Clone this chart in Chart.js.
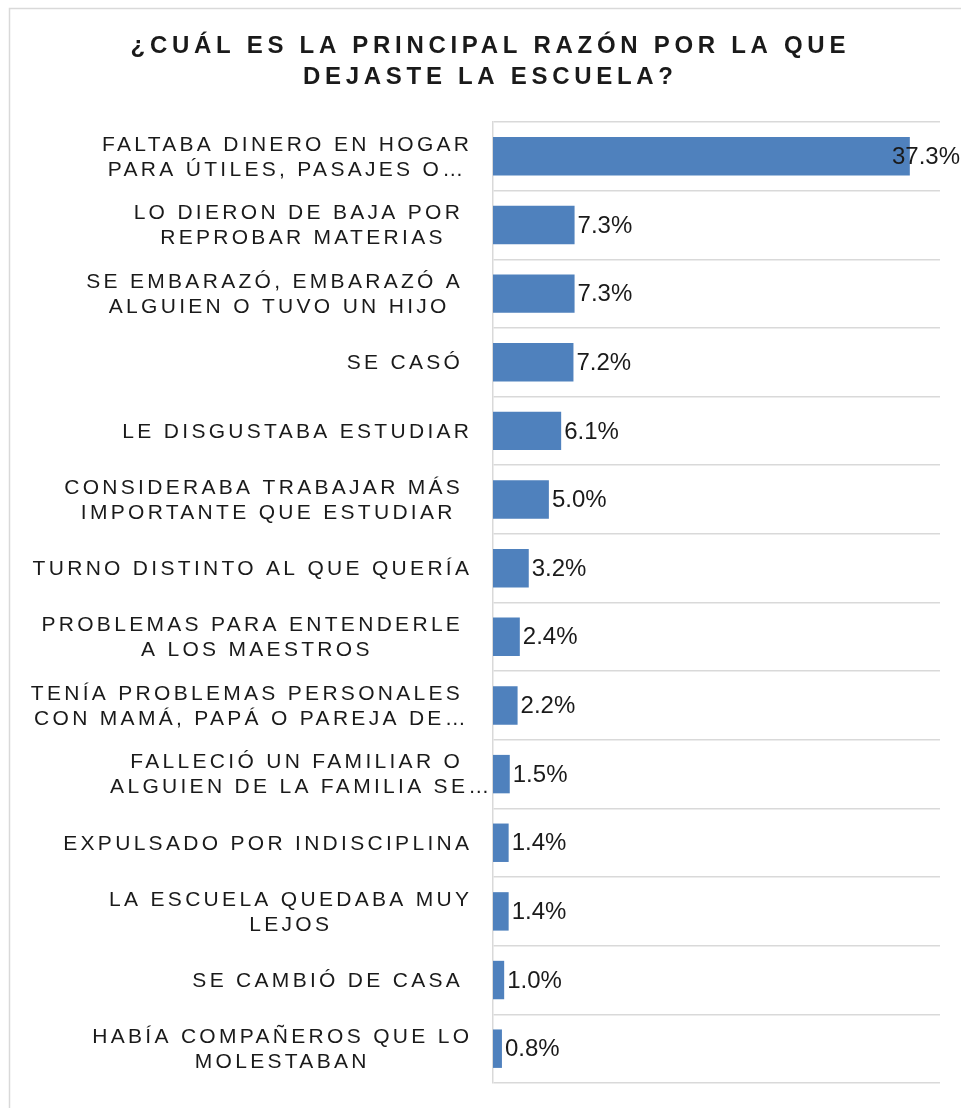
<!DOCTYPE html>
<html lang="es">
<head>
<meta charset="utf-8">
<title>¿Cuál es la principal razón por la que dejaste la escuela?</title>
<script src="https://cdn.jsdelivr.net/npm/chart.js@4/dist/chart.umd.min.js"></script>
<style>
    html, body { margin: 0; padding: 0; background: #ffffff; }
    #wrap { position: relative; width: 961px; height: 1108px; }
</style>
</head>
<body>
<div id="wrap"><canvas id="razones"></canvas></div>
<script>
const titleLines = ["¿CUÁL ES LA PRINCIPAL RAZÓN POR LA QUE", "DEJASTE LA ESCUELA?"];

const categories = [
    ["FALTABA DINERO EN HOGAR", "PARA ÚTILES, PASAJES O…"],
    ["LO DIERON DE BAJA POR ", "REPROBAR MATERIAS"],
    ["SE EMBARAZÓ, EMBARAZÓ A ", "ALGUIEN O TUVO UN HIJO"],
    ["SE CASÓ "],
    ["LE DISGUSTABA ESTUDIAR"],
    ["CONSIDERABA TRABAJAR MÁS ", "IMPORTANTE QUE ESTUDIAR"],
    ["TURNO DISTINTO AL QUE QUERÍA"],
    ["PROBLEMAS PARA ENTENDERLE ", "A LOS MAESTROS"],
    ["TENÍA PROBLEMAS PERSONALES ", "CON MAMÁ, PAPÁ O PAREJA DE…"],
    ["FALLECIÓ UN FAMILIAR O ", "ALGUIEN DE LA FAMILIA SE…"],
    ["EXPULSADO POR INDISCIPLINA"],
    ["LA ESCUELA QUEDABA MUY", "LEJOS"],
    ["SE CAMBIÓ DE CASA "],
    ["HABÍA COMPAÑEROS QUE LO", "MOLESTABAN"],
];

const percentages = [37.3, 7.3, 7.3, 7.2, 6.1, 5.0, 3.2, 2.4, 2.2, 1.5, 1.4, 1.4, 1.0, 0.8];

const axisMax = 40;

const barColor = "#4F81BD";
const gridColor = "#D9D9D9";
const textColor = "#1A1A1A";
const fontFamily = "'Liberation Sans', Arial, sans-serif";

// draw text with letter spacing, anchored by its left edge
function spacedText(ctx, text, x, y, spacing) {
    ctx.letterSpacing = spacing + "px";
    ctx.textAlign = "left";
    ctx.fillText(text, x, y);
    ctx.letterSpacing = "0px";
}

function spacedWidth(ctx, text, spacing) {
    ctx.letterSpacing = spacing + "px";
    const w = ctx.measureText(text).width;
    ctx.letterSpacing = "0px";
    return w;
}

// frame round the chart, title and category labels
const decorations = {
    id: "decorations",
    beforeDraw(chart) {
        const ctx = chart.ctx;
        ctx.save();
        ctx.fillStyle = "#ffffff";
        ctx.fillRect(0, 0, chart.width, chart.height);
        ctx.strokeStyle = gridColor;
        ctx.lineWidth = 1.5;
        ctx.beginPath();
        ctx.moveTo(9.5, chart.height);
        ctx.lineTo(9.5, 8.5);
        ctx.lineTo(chart.width, 8.5);
        ctx.stroke();

        ctx.fillStyle = textColor;
        ctx.textBaseline = "middle";
        ctx.font = "bold 24px " + fontFamily;
        const titleSpacing = 4.7;
        titleLines.forEach((line, i) => {
            const w = spacedWidth(ctx, line, titleSpacing) - titleSpacing;
            spacedText(ctx, line, 488 - w / 2, 46 + i * 31, titleSpacing);
        });
        ctx.restore();
    },
    afterDraw(chart) {
        const ctx = chart.ctx;
        const yScale = chart.scales.y;
        const labelRight = chart.chartArea.left - 24;
        const spacing = 3.3;
        const lineHeight = 25;
        ctx.save();
        ctx.fillStyle = textColor;
        ctx.textBaseline = "middle";
        ctx.font = "21px " + fontFamily;
        categories.forEach((lines, i) => {
            const yc = yScale.getPixelForValue(i);
            const firstW = spacedWidth(ctx, lines[0], spacing) - spacing;
            const center = labelRight - firstW / 2;
            const top = yc - ((lines.length - 1) * lineHeight) / 2;
            lines.forEach((line, j) => {
                const w = spacedWidth(ctx, line, spacing) - spacing;
                spacedText(ctx, line, center - w / 2, top + j * lineHeight + 1, spacing);
            });
        });

        // value labels at the end of each bar
        ctx.font = "24px " + fontFamily;
        ctx.textAlign = "left";
        const meta = chart.getDatasetMeta(0);
        meta.data.forEach((bar, i) => {
            const text = percentages[i].toFixed(1) + "%";
            const w = ctx.measureText(text).width;
            let x = bar.x + 3;
            if (x + w > chart.width - 1) x = chart.width - 1 - w;
            ctx.fillText(text, x, bar.y + 1);
        });
        ctx.restore();
    },
};

function createReasonsChart() {
    const ctx = document.getElementById("razones").getContext("2d");
    new Chart(ctx, {
        type: "bar",
        data: {
            labels: categories,
            datasets: [
                {
                    data: percentages,
                    backgroundColor: barColor,
                    borderWidth: 0,
                    categoryPercentage: 1,
                    barPercentage: 0.56,
                },
            ],
        },
        options: {
            indexAxis: "y",
            responsive: true,
            maintainAspectRatio: false,
            animation: false,
            devicePixelRatio: 1,
            layout: {
                padding: { left: 493, right: 21, top: 122, bottom: 25 },
            },
            plugins: {
                legend: { display: false },
                tooltip: { enabled: false },
                title: { display: false },
            },
            scales: {
                x: {
                    display: false,
                    min: 0,
                    max: axisMax,
                },
                y: {
                    display: true,
                    grid: {
                        display: true,
                        color: gridColor,
                        lineWidth: 1.5,
                        drawTicks: false,
                        offset: true,
                    },
                    border: { display: true, color: gridColor, width: 1.5 },
                    ticks: { display: false },
                },
            },
        },
        plugins: [decorations],
    });
}

createReasonsChart();
</script>
</body>
</html>
